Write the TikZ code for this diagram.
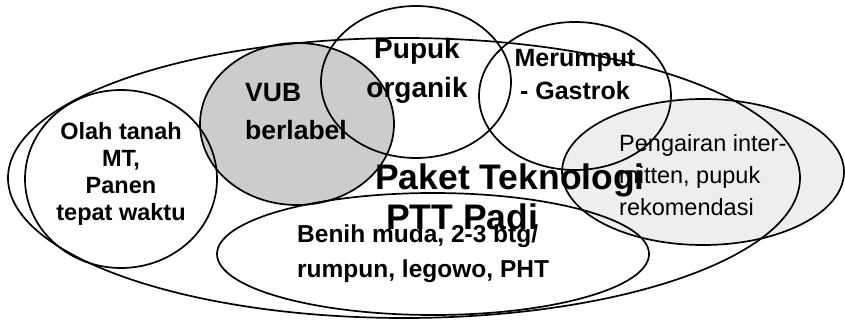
\documentclass[tikz,border=0pt]{standalone}
\usepackage{fontspec}
\setmainfont{Liberation Sans}
\usetikzlibrary{shapes.geometric,backgrounds}
\definecolor{vubgray}{HTML}{CCCCCC}
\definecolor{penggray}{HTML}{EEEEEE}
\begin{document}
\begin{tikzpicture}[x=1pt,y=-1pt,
  oval/.style={ellipse, draw=black, line width=1.7pt, inner sep=0pt},
  boldtxt/.style={inner sep=0pt, font=\bfseries},
  plaintxt/.style={inner sep=0pt}]
\useasboundingbox (0,0) rectangle (845,320);
% outlines
\node[oval, minimum width=792pt, minimum height=280pt] (paket) at (404,178) {};
\node[oval, minimum width=192pt, minimum height=178pt] (olah) at (121,179) {};
\node[oval, minimum width=194pt, minimum height=162pt] (vub) at (297,124) {};
\node[oval, minimum width=190pt, minimum height=152pt] (pupuk) at (416,82) {};
\node[oval, minimum width=192pt, minimum height=148pt] (merumput) at (575,96) {};
\node[oval, minimum width=282pt, minimum height=146pt] (pengairan) at (703,172) {};
\node[oval, minimum width=432pt, minimum height=122pt] (benih) at (433,254) {};
% fills behind
\begin{scope}[on background layer]
  \fill[white] (0,0) rectangle (845,320);
  \fill[vubgray] (vub.center) ellipse [x radius=97pt, y radius=81pt];
  \fill[penggray] (pengairan.center) ellipse [x radius=141pt, y radius=73pt];
\end{scope}
% texts
\node[boldtxt, anchor=north, align=center,
      font=\bfseries\fontsize{23.5}{27}\selectfont] (tolah) at (121,122)
  {Olah tanah\\MT,\\Panen\\tepat waktu};
\node[boldtxt, anchor=north west, align=left,
      font=\bfseries\fontsize{26.5}{38}\selectfont] (tvub) at (245,83)
  {VUB\\berlabel};
\node[boldtxt, anchor=north, align=center,
      font=\bfseries\fontsize{28}{39}\selectfont] (tpupuk) at (417,38)
  {Pupuk\\organik};
\node[boldtxt, anchor=north, align=center,
      font=\bfseries\fontsize{25}{33}\selectfont] (tmerumput) at (575,49)
  {Merumput\\- Gastrok};
\node[boldtxt, anchor=north west, align=left,
      font=\bfseries\fontsize{35.5}{40}\selectfont] (tpaket) at (375,164)
  {Paket Teknologi\\\hspace*{11pt}PTT Padi};
\node[boldtxt, anchor=north west, align=left,
      font=\bfseries\fontsize{24.5}{35}\selectfont] (tbenih) at (297,224.5)
  {Benih muda, 2-3 btg/\\rumpun, legowo, PHT};
\node[plaintxt, anchor=north west, align=left,
      font=\fontsize{23.5}{32}\selectfont] (tpeng) at (619,134)
  {Pengairan inter-\\mitten, pupuk\\rekomendasi};
\end{tikzpicture}
\end{document}
